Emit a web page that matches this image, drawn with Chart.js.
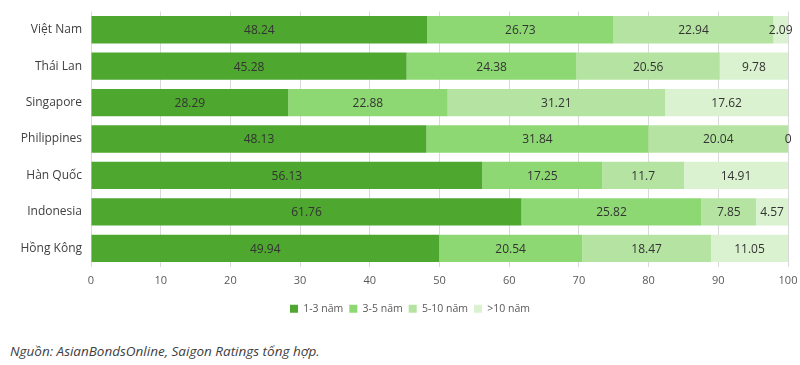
<!DOCTYPE html>
<html>
<head>
<meta charset="utf-8">
<script src="https://cdn.jsdelivr.net/npm/chart.js@4"></script>
<style>
  body { margin: 0; background: #fff; }
  #wrap { position: relative; width: 800px; height: 365px; }
  #box { position: absolute; left: 0; top: 0; width: 800px; height: 328px; }
  #note {
    position: absolute; left: 10px; top: 342px;
    font-family: "Open Sans", sans-serif;
    font-style: italic; font-size: 13.5px; color: #404040;
  }
</style>
</head>
<body>
<div id="wrap">
  <div id="box"><canvas id="maturityChart"></canvas></div>
  <div id="note">Nguồn: AsianBondsOnline, Saigon Ratings tổng hợp.</div>
</div>
<script>
// du lieu doc tu hinh goc
var categories = ['Việt Nam', 'Thái Lan', 'Singapore', 'Philippines', 'Hàn Quốc', 'Indonesia', 'Hồng Kông'];
var seriesNames = ['1-3 năm', '3-5 năm', '5-10 năm', '>10 năm'];
var val13 = [48.24, 45.28, 28.29, 48.13, 56.13, 61.76, 49.94];
var val35 = [26.73, 24.38, 22.88, 31.84, 17.25, 25.82, 20.54];
var val510 = [22.94, 20.56, 31.21, 20.04, 11.7, 7.85, 18.47];
var val10 = [2.09, 9.78, 17.62, 0, 14.91, 4.57, 11.05];
var xTicks = [0, 10, 20, 30, 40, 50, 60, 70, 80, 90, 100];

var colors = ['#4ea72e', '#8ed873', '#b5e4a2', '#daf2d0'];
var allValues = [val13, val35, val510, val10];

// label angka di tengah moi doan bar
var barLabels = {
    id: 'barLabels',
    afterDatasetsDraw: function (chart) {
        var ctx = chart.ctx;
        ctx.save();
        ctx.font = '12px "Open Sans", sans-serif';
        ctx.fillStyle = '#333333';
        ctx.textAlign = 'center';
        ctx.textBaseline = 'middle';
        chart.data.datasets.forEach(function (ds, i) {
            var meta = chart.getDatasetMeta(i);
            meta.data.forEach(function (bar, j) {
                var cx = (bar.x + bar.base) / 2;
                ctx.fillText(String(ds.data[j]), cx, bar.y + 1);
            });
        });
        ctx.restore();
    }
};

// geser legend sedikit ke kanan seperti gambar asli
var legendShift = {
    id: 'legendShift',
    afterLayout: function (chart) {
        if (chart.legend) {
            chart.legend.left += 16;
            chart.legend.right += 16;
        }
    }
};

var ctx = document.getElementById('maturityChart').getContext('2d');
new Chart(ctx, {
    type: 'bar',
    data: {
        labels: categories,
        datasets: seriesNames.map(function (name, i) {
            return {
                label: name,
                data: allValues[i],
                backgroundColor: colors[i],
                borderWidth: 0,
                barPercentage: 0.75,
                categoryPercentage: 1
            };
        })
    },
    options: {
        indexAxis: 'y',
        responsive: true,
        maintainAspectRatio: false,
        animation: false,
        layout: { padding: { top: 11.5, right: 12, bottom: 4, left: 0 } },
        scales: {
            x: {
                stacked: true,
                min: 0,
                max: 100,
                afterBuildTicks: function (scale) {
                    scale.ticks = xTicks.map(function (v) { return { value: v }; });
                },
                grid: { color: '#d9d9d9', drawTicks: false },
                border: { display: false },
                ticks: {
                    color: '#595959',
                    padding: 8,
                    font: { family: '"Open Sans", sans-serif', size: 11 }
                },
                afterFit: function (scale) {
                    scale.height = 31;
                    scale.paddingLeft = 0;
                    scale.paddingRight = 0;
                }
            },
            y: {
                stacked: true,
                grid: { display: false, drawTicks: false },
                border: { display: false },
                ticks: {
                    color: '#404040',
                    padding: 9,
                    font: { family: '"Open Sans", sans-serif', size: 12 }
                },
                afterFit: function (scale) {
                    scale.width = 91;
                    scale.paddingTop = 0;
                    scale.paddingBottom = 0;
                }
            }
        },
        plugins: {
            legend: {
                position: 'bottom',
                labels: {
                    boxWidth: 8,
                    boxHeight: 8,
                    padding: 6,
                    color: '#595959',
                    font: { family: '"Open Sans", sans-serif', size: 10.5 }
                }
            },
            tooltip: { enabled: false }
        }
    },
    plugins: [barLabels, legendShift]
});
</script>
</body>
</html>
